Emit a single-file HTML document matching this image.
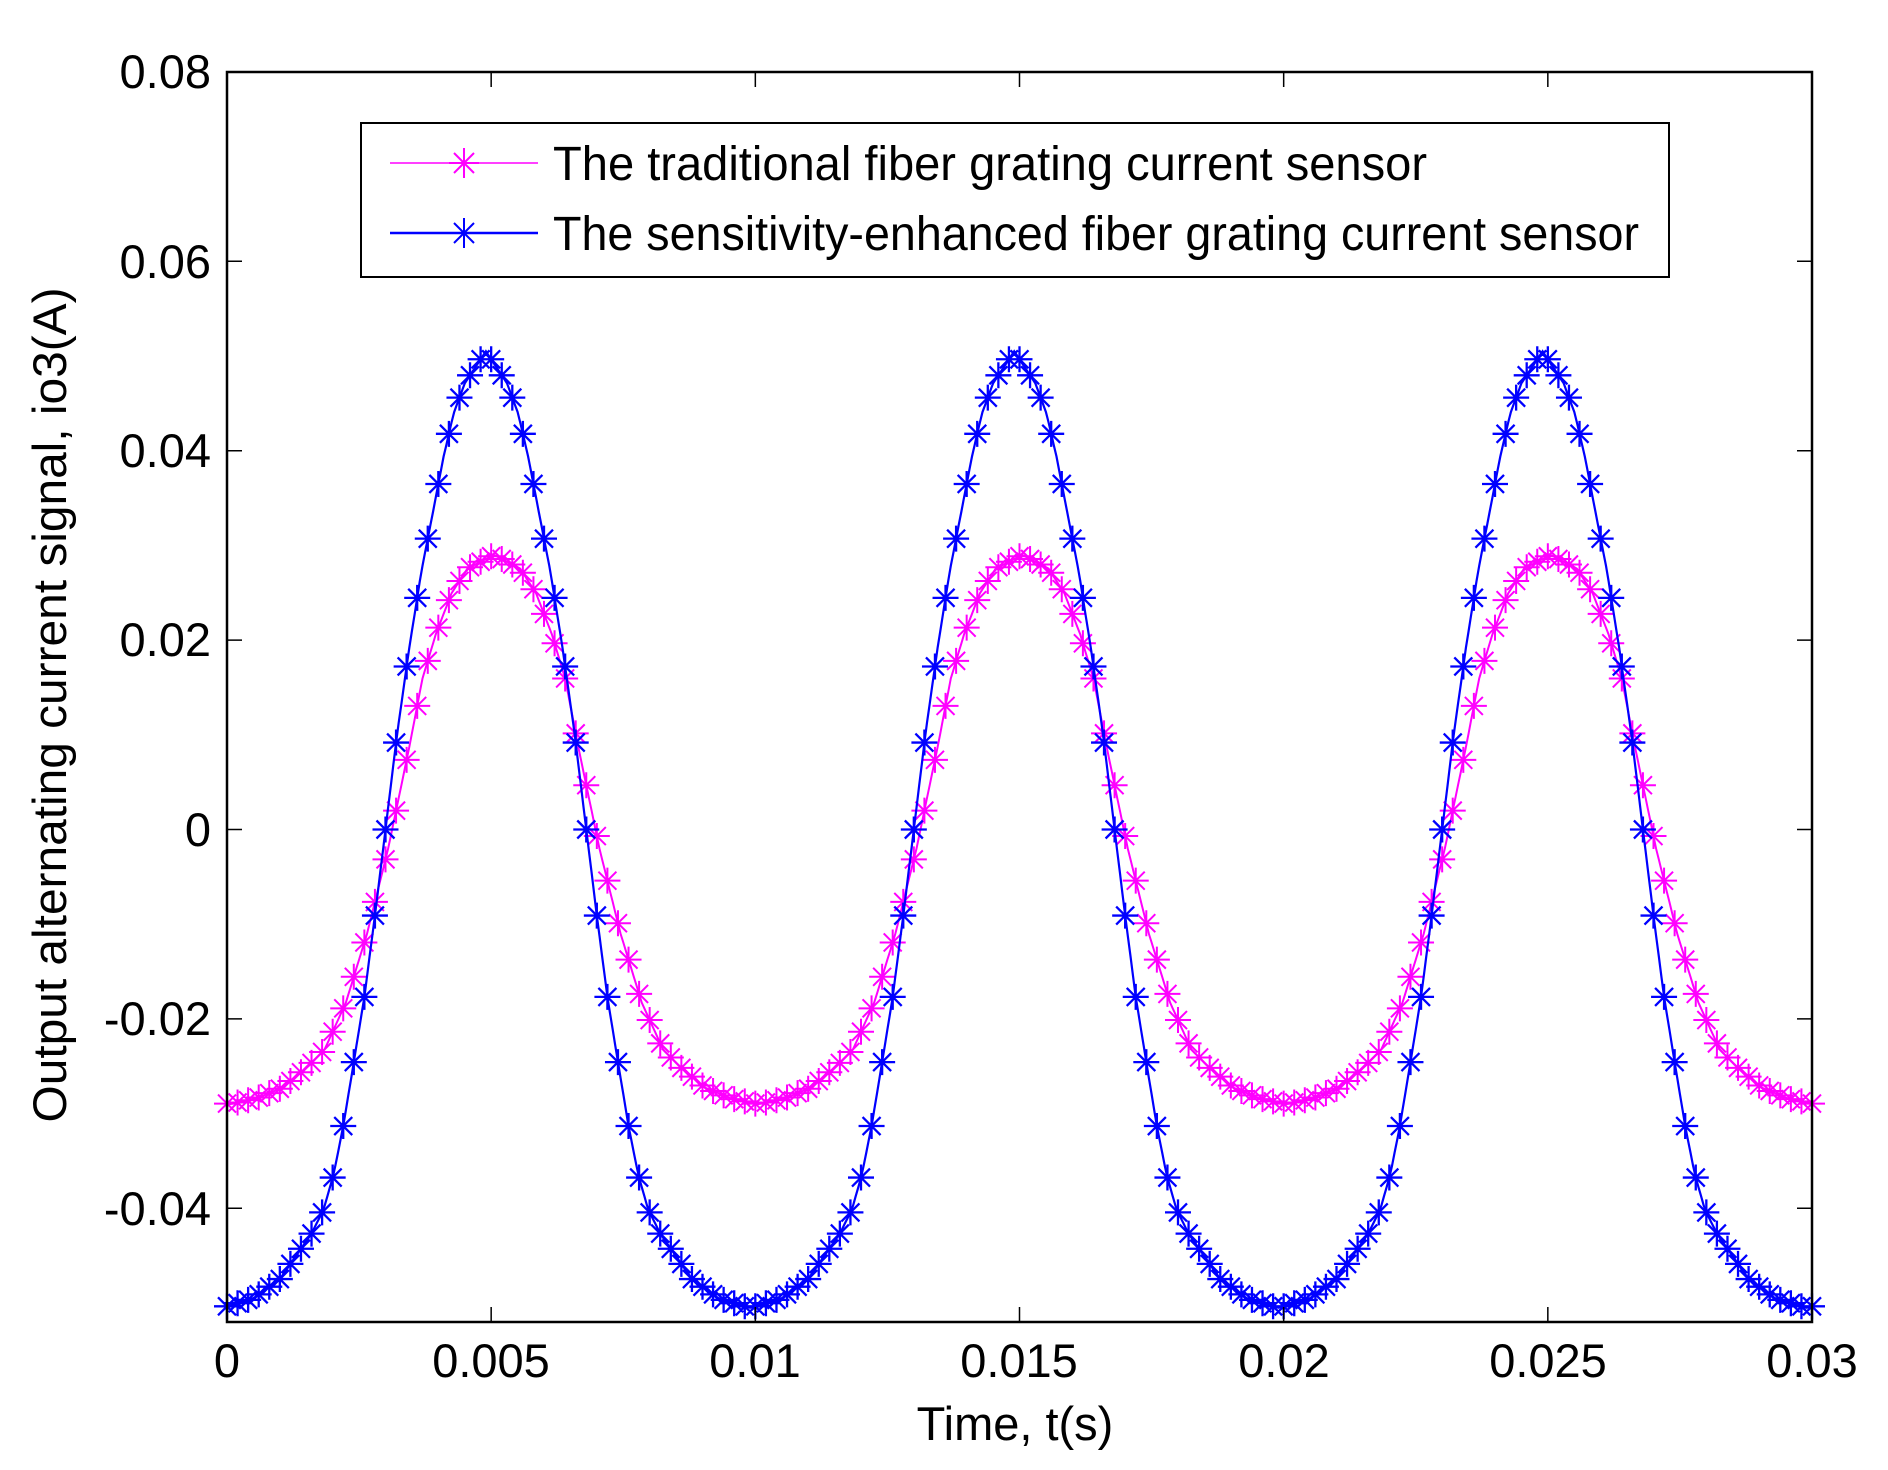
<!DOCTYPE html>
<html><head><meta charset="utf-8"><style>
html,body{margin:0;padding:0;background:#fff;}
svg{display:block;}
text{font-family:"Liberation Sans",Arial,sans-serif;fill:#000;}
</style></head><body>
<svg id="s" xmlns="http://www.w3.org/2000/svg" width="1888" height="1470" viewBox="0 0 1888 1470">
<rect x="0" y="0" width="1888" height="1470" fill="#fff"/>
<g id="data"></g>
<rect x="227" y="72" width="1585" height="1250" fill="none" stroke="#000" stroke-width="2.5"/>
<g id="ticks" stroke="#000" stroke-width="1.5"></g>
<g font-size="47" text-anchor="end">
<text x="211" y="88">0.08</text>
<text x="211" y="278">0.06</text>
<text x="211" y="467">0.04</text>
<text x="211" y="656">0.02</text>
<text x="211" y="846">0</text>
<text x="211" y="1035">-0.02</text>
<text x="211" y="1225">-0.04</text>
</g>
<g font-size="47" text-anchor="middle">
<text x="227" y="1377">0</text>
<text x="491" y="1377">0.005</text>
<text x="755" y="1377">0.01</text>
<text x="1019" y="1377">0.015</text>
<text x="1284" y="1377">0.02</text>
<text x="1548" y="1377">0.025</text>
<text x="1812" y="1377">0.03</text>
</g>
<text x="1015" y="1440" font-size="47" text-anchor="middle">Time, t(s)</text>
<text transform="translate(66,705) rotate(-90)" font-size="47" text-anchor="middle" textLength="835" lengthAdjust="spacingAndGlyphs">Output alternating current signal, io3(A)</text>
<rect x="361" y="123" width="1308" height="154" fill="#fff" stroke="#000" stroke-width="2"/>
<line x1="390" y1="163" x2="538" y2="163" stroke="#ff00ff" stroke-width="1.5"/>
<line x1="390" y1="233" x2="538" y2="233" stroke="#0000ff" stroke-width="2.5"/>
<g id="leg"></g>
<text x="553" y="180" font-size="48" textLength="874" lengthAdjust="spacingAndGlyphs">The traditional fiber grating current sensor</text>
<text x="553" y="250" font-size="48" textLength="1086" lengthAdjust="spacingAndGlyphs">The sensitivity-enhanced fiber grating current sensor</text>
</svg>
<script>
(function(){
var NS="http://www.w3.org/2000/svg";
var X0=227,X1=1812,Y0=829.5,PY=189.4/0.02;
function px(t){return X0+(t/0.03)*(X1-X0);}
function py(v){return Y0-v*PY;}
var mag=[[0,1],[0.5,0.95],[0.8,0.86],[1.1,0.71],[1.35,0.55],[1.6,0.30],[2.0,-0.07],[2.4,-0.38],[2.8,-0.63],[3.2,-0.80],[3.5,-0.86],[4.0,-0.94],[4.5,-0.98],[5,-1]];
var blu=[[0,1],[0.4,0.933],[0.61,0.87],[0.8,0.78],[1.0,0.665],[1.22,0.54],[1.45,0.38],[1.68,0.2],[1.9,0.0],[2.1,-0.18],[2.3,-0.35],[2.52,-0.5],[2.7,-0.62],[2.88,-0.72],[3.07,-0.794],[3.3,-0.845],[3.9,-0.94],[4.4,-0.98],[4.8,-0.994],[5,-1]];
function interp(tab,d){for(var i=1;i<tab.length;i++){if(d<=tab[i][0]){var a=tab[i-1],b=tab[i];var f=(d-a[0])/(b[0]-a[0]);return a[1]+f*(b[1]-a[1]);}}return tab[tab.length-1][1];}
function val(tab,t,sh){var ms=t*1000-sh;var ph=((ms-5)%10+10)%10;var d=ph>5?10-ph:ph;return interp(tab,d);}
function series(tab,amp,col,lw,ph,xh,sw,sh){
var g=document.getElementById("data");var d="";var m="";
for(var i=0;i<=600;i++){var t=i*0.00005;var x=px(t),y=py(amp*val(tab,t,sh));d+=(i?"L":"M")+x.toFixed(1)+" "+y.toFixed(1);}
for(var i=0;i<=150;i++){var t=i*0.0002;var x=px(t),y=py(amp*val(tab,t,sh));
m+="M"+(x-ph)+" "+y+"H"+(x+ph)+"M"+x+" "+(y-ph)+"V"+(y+ph)+"M"+(x-xh)+" "+(y-xh)+"L"+(x+xh)+" "+(y+xh)+"M"+(x-xh)+" "+(y+xh)+"L"+(x+xh)+" "+(y-xh);}
var p=document.createElementNS(NS,"path");p.setAttribute("d",d);p.setAttribute("fill","none");p.setAttribute("stroke",col);p.setAttribute("stroke-width",lw);g.appendChild(p);
var q=document.createElementNS(NS,"path");q.setAttribute("d",m);q.setAttribute("fill","none");q.setAttribute("stroke",col);q.setAttribute("stroke-width",sw);g.appendChild(q);}
series(mag,0.029,"#ff00ff",2,13,9,2,0.05);
series(blu,0.0505,"#0000ff",2.2,13,9,2.3,-0.1);
var tk=document.getElementById("ticks");var s="";
for(var i=0;i<7;i++){var x=px(i*0.005);s+="M"+x+" 1322V1307M"+x+" 72V87";}
var yv=[0.08,0.06,0.04,0.02,0,-0.02,-0.04];
for(var i=0;i<yv.length;i++){var y=py(yv[i]);s+="M227 "+y+"H242M1812 "+y+"H1797";}
var p=document.createElementNS(NS,"path");p.setAttribute("d",s);tk.appendChild(p);
var lg=document.getElementById("leg");
function lm(x,y,c){var h=15,k=10;var q=document.createElementNS(NS,"path");
q.setAttribute("d","M"+(x-h)+" "+y+"H"+(x+h)+"M"+x+" "+(y-h)+"V"+(y+h)+"M"+(x-k)+" "+(y-k)+"L"+(x+k)+" "+(y+k)+"M"+(x-k)+" "+(y+k)+"L"+(x+k)+" "+(y-k));
q.setAttribute("stroke",c);q.setAttribute("stroke-width","2");q.setAttribute("fill","none");lg.appendChild(q);}
lm(464,163,"#ff00ff");lm(464,233,"#0000ff");
})();
</script>
</body></html>
